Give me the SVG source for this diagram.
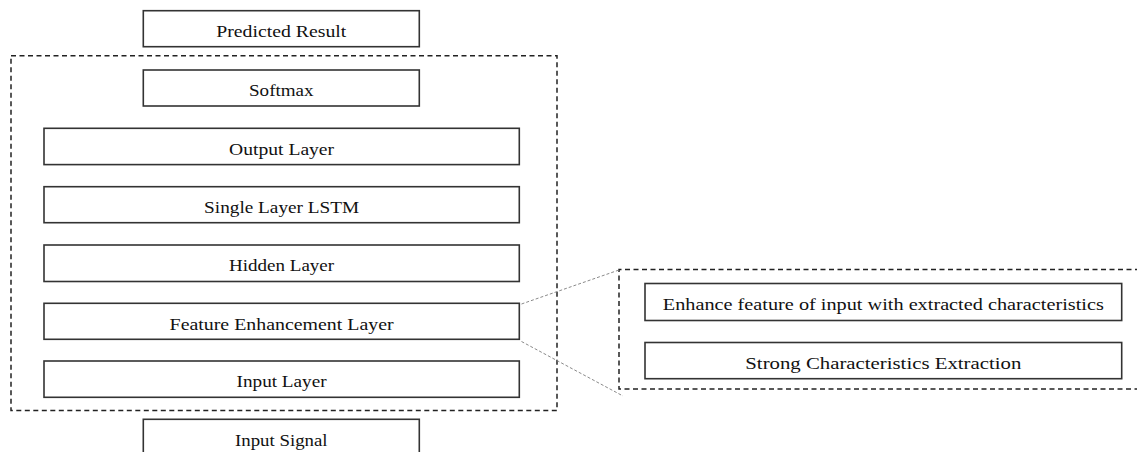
<svg xmlns="http://www.w3.org/2000/svg" width="1137" height="452" viewBox="0 0 1137 452">
  <style>
    .box { fill: #ffffff; stroke: #333333; stroke-width: 1.6; }
    .frame { fill: none; stroke: #222222; stroke-width: 1.5; stroke-dasharray: 5 3.5; }
    .lead { fill: none; stroke: #8a8a8a; stroke-width: 1; stroke-dasharray: 3 2; }
    .lbl { font-family: "Liberation Serif", "Times New Roman", serif; font-size: 17px; fill: #111111; text-anchor: middle; }
  </style>

  <!-- model frame and the expanded feature-enhancement frame -->
  <rect class="frame" x="11" y="55.7" width="546" height="354.8"/>
  <path class="frame" d="M1140,269.5 H619 V389 H1140"/>

  <!-- leader lines from the enhancement layer to its expansion -->
  <g id="connectors">
    <line class="lead" x1="521.5" y1="304" x2="619" y2="270"/>
    <line class="lead" x1="521.5" y1="341.5" x2="623" y2="396"/>
  </g>

  <g id="predicted-result">
    <rect class="box" x="143.3" y="10.7" width="276" height="36"/>
    <text class="lbl" x="281.3" y="36.7" textLength="130" lengthAdjust="spacingAndGlyphs">Predicted Result</text>
  </g>

  <g id="softmax">
    <rect class="box" x="143.3" y="70" width="276" height="36"/>
    <text class="lbl" x="281.3" y="96" textLength="64.6" lengthAdjust="spacingAndGlyphs">Softmax</text>
  </g>

  <g id="output-layer">
    <rect class="box" x="44" y="128.3" width="475.3" height="36.3"/>
    <text class="lbl" x="281.6" y="154.8" textLength="105" lengthAdjust="spacingAndGlyphs">Output Layer</text>
  </g>

  <g id="lstm-layer">
    <rect class="box" x="44" y="186.7" width="475.3" height="36"/>
    <text class="lbl" x="281.6" y="213" textLength="155" lengthAdjust="spacingAndGlyphs">Single Layer LSTM</text>
  </g>

  <g id="hidden-layer">
    <rect class="box" x="44" y="245" width="475.3" height="36.5"/>
    <text class="lbl" x="281.6" y="271.4" textLength="105" lengthAdjust="spacingAndGlyphs">Hidden Layer</text>
  </g>

  <g id="feature-enhancement-layer">
    <rect class="box" x="44" y="303.3" width="475.3" height="36"/>
    <text class="lbl" x="281.6" y="329.5" textLength="224" lengthAdjust="spacingAndGlyphs">Feature Enhancement Layer</text>
  </g>

  <g id="input-layer">
    <rect class="box" x="44" y="361" width="475.3" height="36.3"/>
    <text class="lbl" x="281.6" y="387.3" textLength="90" lengthAdjust="spacingAndGlyphs">Input Layer</text>
  </g>

  <g id="input-signal">
    <rect class="box" x="143.3" y="419.3" width="276" height="36"/>
    <text class="lbl" x="281.3" y="445.5" textLength="92.5" lengthAdjust="spacingAndGlyphs">Input Signal</text>
  </g>

  <g id="enhance-feature">
    <rect class="box" x="645" y="283.5" width="476.7" height="37"/>
    <text class="lbl" x="883.3" y="310" textLength="441" lengthAdjust="spacingAndGlyphs">Enhance feature of input with extracted characteristics</text>
  </g>

  <g id="strong-extraction">
    <rect class="box" x="645" y="342.5" width="476.7" height="36.2"/>
    <text class="lbl" x="883.3" y="368.6" textLength="276" lengthAdjust="spacingAndGlyphs">Strong Characteristics Extraction</text>
  </g>
</svg>
